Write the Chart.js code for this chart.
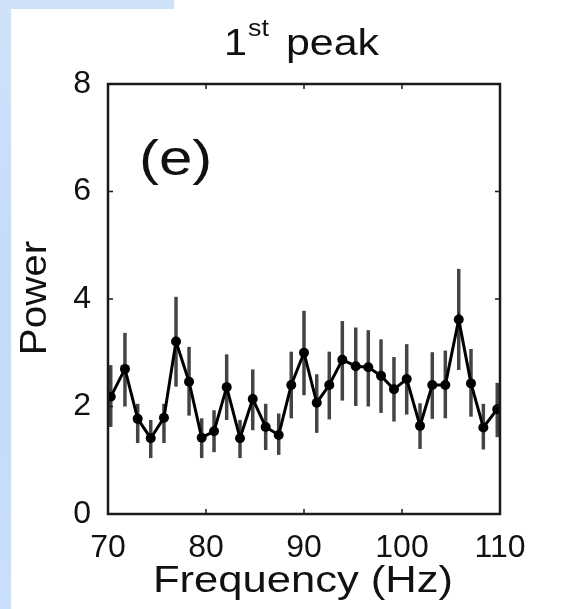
<!DOCTYPE html>
<html>
<head>
<meta charset="utf-8">
<script src="https://cdn.jsdelivr.net/npm/chart.js@4.4.0/dist/chart.umd.min.js"></script>
<style>
  html, body { margin: 0; padding: 0; background: #ffffff; }
  canvas { display: block; }
</style>
</head>
<body>
<canvas id="chart" width="569" height="609"></canvas>
<script>
// --- data ---
var freq = [70.28, 71.73, 73.03, 74.36, 75.71, 76.94, 78.27, 79.56, 80.82, 82.11,
            83.47, 84.77, 86.09, 87.42, 88.70, 90.00, 91.30, 92.58, 93.91, 95.28,
            96.56, 97.86, 99.18, 100.48, 101.84, 103.09, 104.42, 105.79, 107.04, 108.30, 109.72];
var power = [2.18, 2.70, 1.77, 1.41, 1.79, 3.21, 2.46, 1.42, 1.54, 2.36,
             1.41, 2.14, 1.62, 1.47, 2.40, 3.00, 2.07, 2.40, 2.87, 2.75,
             2.73, 2.57, 2.32, 2.51, 1.64, 2.40, 2.40, 3.62, 2.43, 1.61, 1.95];
var errHigh = [2.77, 3.37, 2.05, 1.75, 2.05, 4.04, 3.11, 1.78, 1.93, 2.97,
               1.75, 2.69, 2.05, 1.87, 3.02, 3.78, 2.60, 3.02, 3.59, 3.47,
               3.42, 3.25, 2.92, 3.16, 2.06, 3.01, 3.04, 4.56, 3.07, 2.05, 2.44];
var errLow = [1.62, 2.00, 1.32, 1.04, 1.32, 2.37, 1.83, 1.04, 1.15, 1.75,
              1.04, 1.56, 1.19, 1.10, 1.78, 2.21, 1.51, 1.76, 2.11, 2.01,
              2.00, 1.88, 1.72, 1.85, 1.21, 1.77, 1.78, 2.68, 1.81, 1.20, 1.43];
var xTicks = [70, 80, 90, 100, 110];
var yTicks = [0, 2, 4, 6, 8];

var FONT = '"Liberation Sans", Arial, sans-serif';

// draw text stretched horizontally like the scanned figure
function wideText(ctx, txt, x, y, size, align, sx) {
  ctx.save();
  ctx.font = size + 'px ' + FONT;
  ctx.textAlign = align;
  ctx.textBaseline = 'alphabetic';
  ctx.translate(x, y);
  ctx.scale(sx, 1);
  ctx.fillText(txt, 0, 0);
  ctx.restore();
}

var slideBackground = { //Blue slide edge behind the white figure
  id: 'slideBackground',
  beforeDraw: function(chart) {
    var ctx = chart.ctx;
    ctx.save();
    var g = ctx.createLinearGradient(0, 0, 0, chart.height);
    g.addColorStop(0, '#cfe2fa');
    g.addColorStop(0.5, '#c3dbf8');
    g.addColorStop(1, '#c9dffa');
    ctx.fillStyle = g;
    ctx.fillRect(0, 0, chart.width, chart.height);
    ctx.fillStyle = '#ffffff';
    ctx.fillRect(11, 9, chart.width - 11, chart.height - 9);
    ctx.fillRect(174, 0, chart.width - 174, 9);
    ctx.restore();
  }
};

var errorBars = { //Vertical error bars, drawn under the line
  id: 'errorBars',
  beforeDatasetsDraw: function(chart) {
    var ctx = chart.ctx, xs = chart.scales.x, ys = chart.scales.y;
    ctx.save();
    ctx.strokeStyle = 'rgba(35,35,35,0.85)';
    ctx.lineWidth = 3.5;
    for (var i = 0; i < freq.length; i++) {
      var px = xs.getPixelForValue(freq[i]);
      ctx.beginPath();
      ctx.moveTo(px, ys.getPixelForValue(errLow[i]));
      ctx.lineTo(px, ys.getPixelForValue(errHigh[i]));
      ctx.stroke();
    }
    ctx.restore();
  }
};

var frameAndText = { //Box, inward ticks, titles
  id: 'frameAndText',
  afterDraw: function(chart) {
    var ctx = chart.ctx, a = chart.chartArea, xs = chart.scales.x, ys = chart.scales.y;
    ctx.save();
    ctx.strokeStyle = '#1a1a1a';
    ctx.lineWidth = 2.5;
    ctx.strokeRect(a.left, a.top, a.right - a.left, a.bottom - a.top);
    ctx.lineWidth = 1.5;
    ctx.beginPath();
    xTicks.forEach(function(v) {
      var px = xs.getPixelForValue(v);
      ctx.moveTo(px, a.bottom); ctx.lineTo(px, a.bottom - 5);
      ctx.moveTo(px, a.top); ctx.lineTo(px, a.top + 5);
    });
    yTicks.forEach(function(v) {
      var py = ys.getPixelForValue(v);
      ctx.moveTo(a.left, py); ctx.lineTo(a.left + 5, py);
      ctx.moveTo(a.right, py); ctx.lineTo(a.right - 5, py);
    });
    ctx.stroke();

    ctx.fillStyle = '#111111';
    // title "1st peak"
    wideText(ctx, '1', 224, 55, 37, 'left', 1.12);
    wideText(ctx, 'st', 248, 36, 24, 'left', 1.12);
    wideText(ctx, 'peak', 286, 55, 37, 'left', 1.16);
    // panel label
    wideText(ctx, '(e)', 139, 175, 50, 'left', 1.2);
    // x axis title
    wideText(ctx, 'Frequency (Hz)', 303, 592, 36, 'center', 1.21);
    // y axis title (rotated)
    ctx.save();
    ctx.translate(46, 298);
    ctx.rotate(-Math.PI / 2);
    wideText(ctx, 'Power', 0, 0, 36, 'center', 1.12);
    ctx.restore();
    ctx.restore();
  }
};

var data = {
  datasets: [{
    data: freq.map(function(f, i) { return { x: f, y: power[i] }; }),
    borderColor: '#000000',
    backgroundColor: '#000000',
    borderWidth: 3,
    pointRadius: 5,
    pointBorderWidth: 0,
    tension: 0
  }]
};

new Chart(document.getElementById('chart').getContext('2d'), {
  type: 'line',
  data: data,
  options: {
    responsive: false,
    animation: false,
    layout: { padding: { top: 84, right: 69, left: 0, bottom: 0 } },
    plugins: { legend: { display: false }, tooltip: { enabled: false } },
    scales: {
      x: {
        type: 'linear', min: 70, max: 110,
        afterFit: function(s) { s.height = 95; },
        afterBuildTicks: function(s) { s.ticks = xTicks.map(function(v) { return { value: v }; }); },
        grid: { display: false },
        border: { display: false },
        ticks: { color: '#111111', padding: 7, maxRotation: 0, autoSkip: false,
                 font: { family: FONT, size: 32 } }
      },
      y: {
        type: 'linear', min: 0, max: 8,
        afterFit: function(s) { s.width = 108; },
        afterBuildTicks: function(s) { s.ticks = yTicks.map(function(v) { return { value: v }; }); },
        grid: { display: false },
        border: { display: false },
        ticks: { color: '#111111', padding: 9, font: { family: FONT, size: 32 } }
      }
    }
  },
  plugins: [slideBackground, errorBars, frameAndText]
});
</script>
</body>
</html>
